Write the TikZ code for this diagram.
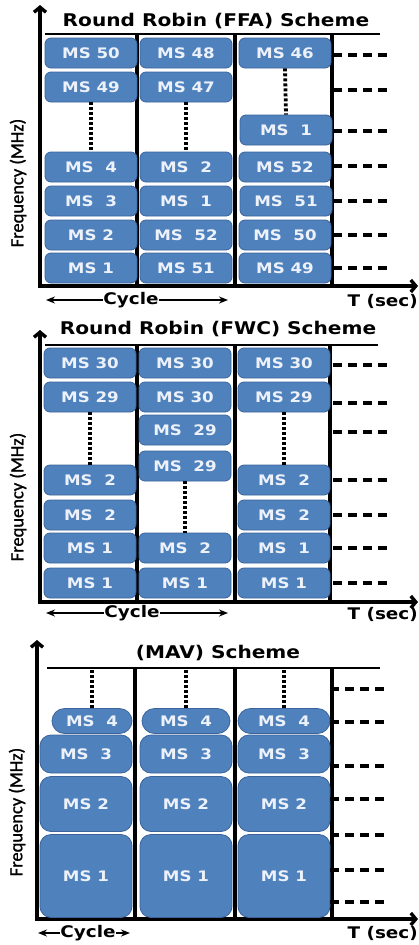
\documentclass[tikz,border=0pt]{standalone}
\usepackage{fontspec}
\newfontfamily\msfont[FakeStretch=1.15]{DejaVu Sans Bold}
\newfontfamily\freqfont[FakeBold=1.2]{Carlito}
\usepackage{tikz}
\usetikzlibrary{arrows.meta,positioning}
\definecolor{msblue}{RGB}{79,129,189}
\definecolor{msedge}{RGB}{60,100,155}
\definecolor{mstext}{RGB}{236,241,250}
\tikzset{
	msbox/.style={
		draw=msedge, fill=msblue, rounded corners=6pt,
		minimum width=92pt, minimum height=30pt,
		inner sep=0pt, text=mstext, line width=0.8pt,
		font=\msfont\fontsize{14.5}{14.5}\selectfont
	},
	mavbox/.style={msbox, rounded corners=11pt},
	pilltag/.style={msbox, rounded corners=12.5pt, minimum height=25pt},
	title/.style={font=\msfont\fontsize{17.5}{17.5}\selectfont, inner sep=0pt},
	axislabel/.style={font=\msfont\fontsize{16}{16}\selectfont, inner sep=0pt},
	freq/.style={font=\freqfont\fontsize{18.5}{18.5}\selectfont, rotate=90, inner sep=0pt},
	axes/.style={line width=3.4pt, {Straight Barb[length=5pt,width=12pt]}-{Straight Barb[length=5pt,width=12pt]}},
	divider/.style={line width=3.4pt},
	topline/.style={line width=2pt},
	dots/.style={line width=3.8pt, dash pattern=on 3pt off 2pt},
	slots/.style={line width=3.2pt, dash pattern=on 9pt off 6pt},
	cyclearrow/.style={line width=2pt, -{Stealth[length=9pt,width=7pt]}}
}

\begin{document}
\begin{tikzpicture}[x=1pt,y=-1pt]
  \useasboundingbox (0,0) rectangle (419,945);

  % Round Robin (FFA)
  \draw[axes] (40,5) -- (40,286) -- (418,286);
  \draw[topline] (45,34) -- (380,34);
  \foreach \x in {137,235,332} \draw[divider] (\x,34) -- (\x,286);
  \node[title] (ffatitle) at (216,21) {Round Robin (FFA) Scheme};
  \node[msbox] (ffa11) at (91,53)  {MS 50};
  \node[msbox] (ffa12) at (91,87)  {MS 49};
  \node[msbox] (ffa13) at (91,167) {MS~~4};
  \node[msbox] (ffa14) at (91,201) {MS~~3};
  \node[msbox] (ffa15) at (91,235) {MS 2};
  \node[msbox] (ffa16) at (91,268) {MS 1};
  \node[msbox] (ffa21) at (186,53)  {MS 48};
  \node[msbox] (ffa22) at (186,87)  {MS 47};
  \node[msbox] (ffa23) at (186,167) {MS~~2};
  \node[msbox] (ffa24) at (186,201) {MS~~1};
  \node[msbox] (ffa25) at (186,235) {MS~~52};
  \node[msbox] (ffa26) at (186,268) {MS 51};
  \node[msbox] (ffa31) at (285,53)  {MS 46};
  \node[msbox] (ffa32) at (286,130) {MS~~1};
  \node[msbox] (ffa33) at (285,167) {MS 52};
  \node[msbox] (ffa34) at (286,201) {MS~~51};
  \node[msbox] (ffa35) at (285,235) {MS~~50};
  \node[msbox] (ffa36) at (285,268) {MS 49};
  \draw[dots] (ffa12.south) -- (ffa13.north);
  \draw[dots] (ffa22.south) -- (ffa23.north);
  \draw[dots] (ffa31.south) -- (ffa32.north);
  \foreach \y in {55,90,131,166,201,235,268} \draw[slots] (333,\y) -- (390,\y);
  \node[axislabel] (ffacycle) at (131,300) {Cycle};
  \draw[cyclearrow] (ffacycle.west) -- (46,300);
  \draw[cyclearrow] (ffacycle.east) -- (228,300);
  \node[axislabel, anchor=east] (ffatime) at (418,301) {T (sec)};
  \node[freq] (ffafreq) at (18,183) {Frequency (MHz)};

  % Round Robin (FWC)
  \draw[axes] (40,330) -- (40,602) -- (418,602);
  \draw[topline] (45,345) -- (378,345);
  \foreach \x in {137,235,330} \draw[divider] (\x,345) -- (\x,602);
  \node[title] (fwctitle) at (218,329) {Round Robin (FWC) Scheme};
  \node[msbox] (fwc11) at (90,363) {MS 30};
  \node[msbox] (fwc12) at (90,397) {MS 29};
  \node[msbox] (fwc13) at (90,480) {MS~~2};
  \node[msbox] (fwc14) at (90,515) {MS~~2};
  \node[msbox] (fwc15) at (90,548) {MS 1};
  \node[msbox] (fwc16) at (90,583) {MS 1};
  \node[msbox] (fwc21) at (185,363) {MS 30};
  \node[msbox] (fwc22) at (185,397) {MS 30};
  \node[msbox] (fwc23) at (185,430) {MS~~29};
  \node[msbox] (fwc24) at (185,466) {MS~~29};
  \node[msbox] (fwc25) at (185,548) {MS~~2};
  \node[msbox] (fwc26) at (185,583) {MS 1};
  \node[msbox] (fwc31) at (284,363) {MS 30};
  \node[msbox] (fwc32) at (284,397) {MS 29};
  \node[msbox] (fwc33) at (284,480) {MS~~2};
  \node[msbox] (fwc34) at (284,515) {MS~~2};
  \node[msbox] (fwc35) at (284,548) {MS~~1};
  \node[msbox] (fwc36) at (284,583) {MS 1};
  \draw[dots] (fwc12.south) -- (fwc13.north);
  \draw[dots] (fwc24.south) -- (fwc25.north);
  \draw[dots] (fwc32.south) -- (fwc33.north);
  \foreach \y in {365,403,432,480,515,548,583} \draw[slots] (333,\y) -- (390,\y);
  \node[axislabel] (fwccycle) at (132,613) {Cycle};
  \draw[cyclearrow] (fwccycle.west) -- (46,613);
  \draw[cyclearrow] (fwccycle.east) -- (228,613);
  \node[axislabel, anchor=east] (fwctime) at (418,614) {T (sec)};
  \node[freq] (fwcfreq) at (18,497) {Frequency (MHz)};

  % (MAV)
  \draw[axes] (37,640) -- (37,919) -- (418,919);
  \draw[topline] (47,668) -- (380,668);
  \coordinate (mavtop) at (47,668);
  \foreach \x in {135,235,332} \draw[divider] (\x,668) -- (\x,919);
  \node[title] (mavtitle) at (218,653) {(MAV) Scheme};
  \node[pilltag, minimum width=80pt] (mav11) at (92,721) {MS~~4};
  \node[mavbox, minimum height=38pt] (mav12) at (86,754) {MS~~3};
  \node[mavbox, minimum height=55pt] (mav13) at (86,804) {MS 2};
  \node[mavbox, minimum height=83pt] (mav14) at (86,876) {MS 1};
  \node[pilltag, minimum width=88pt] (mav21) at (186,721) {MS~~4};
  \node[mavbox, minimum height=38pt] (mav22) at (186,754) {MS~~3};
  \node[mavbox, minimum height=55pt] (mav23) at (186,804) {MS 2};
  \node[mavbox, minimum height=83pt] (mav24) at (186,876) {MS 1};
  \node[pilltag] (mav31) at (284,721) {MS~~4};
  \node[mavbox, minimum height=38pt] (mav32) at (284,754) {MS~~3};
  \node[mavbox, minimum height=55pt] (mav33) at (284,804) {MS 2};
  \node[mavbox, minimum height=83pt] (mav34) at (284,876) {MS 1};
  \draw[dots] (mav11.north) -- (mav11.north |- mavtop);
  \draw[dots] (mav21.north) -- (mav21.north |- mavtop);
  \draw[dots] (mav31.north) -- (mav31.north |- mavtop);
  \foreach \y in {689,722,766,799,835,870,902} \draw[slots] (330,\y) -- (387,\y);
  \node[axislabel] (mavcycle) at (88,933) {Cycle};
  \draw[cyclearrow] (mavcycle.west) -- (38,933);
  \draw[cyclearrow] (mavcycle.east) -- (130,933);
  \node[axislabel, anchor=east] (mavtime) at (418,933) {T (sec)};
  \node[freq] (mavfreq) at (17,812) {Frequency (MHz)};
\end{tikzpicture}
\end{document}
